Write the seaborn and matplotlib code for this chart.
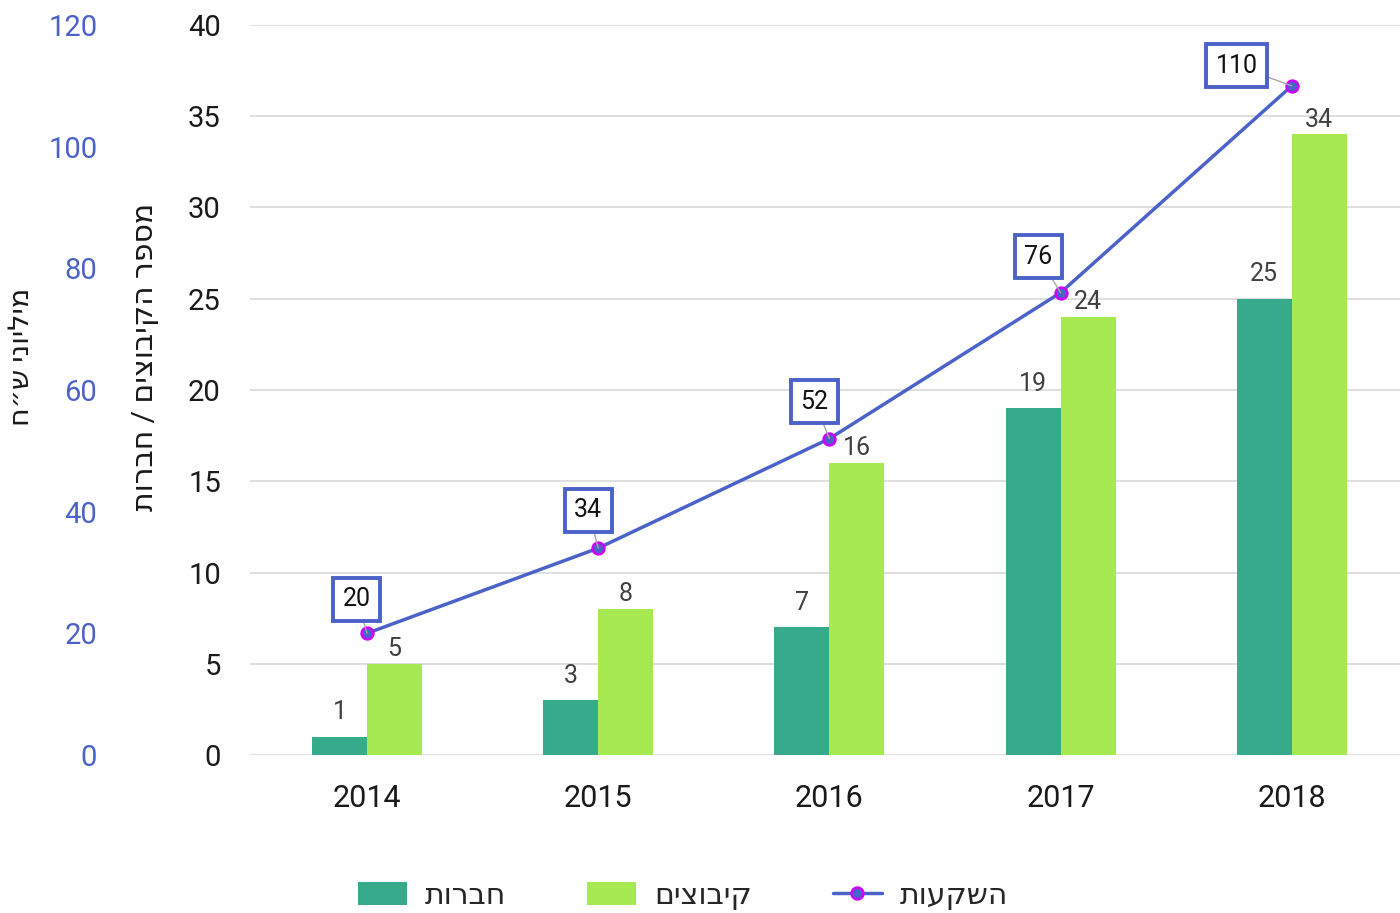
import numpy as np
import pandas as pd
import matplotlib
matplotlib.use("Agg")
import matplotlib.pyplot as plt
from matplotlib.patches import Patch
from matplotlib.lines import Line2D
import seaborn as sns

sns.set_style("white")
plt.rcParams['font.family'] = ['Roboto', 'DejaVu Sans']

# ---- data ----
years = ["2014", "2015", "2016", "2017", "2018"]
companies = [1, 3, 7, 19, 25]          # חברות
kibbutzim = [5, 8, 16, 24, 34]         # קיבוצים
investments = [20, 34, 52, 76, 110]    # השקעות (מיליוני ש"ח)

label_companies = "חברות"
label_kibbutzim = "קיבוצים"
label_invest = "השקעות"
ylabel_left = "מיליוני ש״ח"
ylabel_right = "מספר הקיבוצים / חברות"

# ---- style ----
c_dark = "#36ab8b"
c_light = "#a7e950"
c_line = "#4b62c8"
c_edge = "#d000ff"
c_tick2 = "#4b62c8"
c_text = "#1a1a1a"
c_lbl = "#404040"


def rtl(s):
    return s[::-1]


fig = plt.figure(figsize=(14, 9.13), dpi=100)
ax = fig.add_axes([250 / 1400, 158 / 913, 1150 / 1400, 730 / 913])

df = pd.DataFrame({
    "year": years * 2,
    "value": companies + kibbutzim,
    "series": [label_companies] * len(years) + [label_kibbutzim] * len(years),
})
sns.barplot(data=df, x="year", y="value", hue="series",
            palette=[c_dark, c_light], width=0.476, saturation=1,
            linewidth=0, edgecolor="none", ax=ax, legend=False)

ax.set_ylim(0, 40)
ax.set_yticks(np.arange(0, 41, 5))
ax.grid(axis="y", color="#d9d9d9", lw=1.2)
ax.grid(axis="x", visible=False)
ax.set_axisbelow(True)
for s in ax.spines.values():
    s.set_visible(False)
ax.set_xlabel("")
ax.set_ylabel("")
ax.tick_params(axis="y", length=0, pad=21, labelsize=21, labelcolor=c_text)
ax.tick_params(axis="x", length=0, pad=21, labelsize=22, labelcolor=c_text)

# bar labels
pads = [9, 2]
for cont, p in zip(ax.containers, pads):
    ax.bar_label(cont, padding=p, fontsize=18, color=c_lbl)

# secondary axis (line)
ax2 = ax.twinx()
xpos = np.arange(len(years))
sns.lineplot(x=xpos, y=investments, ax=ax2, color=c_line, lw=2.5,
             marker="o", markersize=8.5, markerfacecolor=c_line,
             markeredgecolor=c_edge, markeredgewidth=1.8)
ax2.set_ylim(0, 120)
ax2.set_yticks(np.arange(0, 121, 20))
ax2.yaxis.tick_left()
ax2.tick_params(axis="y", length=0, pad=110, labelsize=21, labelcolor=c_tick2)
for s in ax2.spines.values():
    s.set_visible(False)
ax2.grid(False)
ax2.set_ylabel("")

ax.set_xlim(-0.506, 4.468)

offsets = [(-10, 34), (-10, 38), (-15, 37), (-22, 36), (-55, 20)]
for i, v in enumerate(investments):
    ax2.annotate(str(v), xy=(xpos[i], v), xytext=offsets[i],
                 textcoords="offset pixels", ha="center", va="center",
                 fontsize=18, color="#111111", zorder=5,
                 bbox=dict(boxstyle="square,pad=0.38", fc="white",
                           ec=c_line, lw=2.8),
                 arrowprops=dict(arrowstyle="-", color="#a6a6a6", lw=1,
                                 shrinkA=0, shrinkB=0))

# axis titles
fig.text(22 / 1400, 1 - 357 / 913, rtl(ylabel_left), rotation=90,
         ha="center", va="center", fontsize=20.5, color=c_text)
fig.text(145 / 1400, 1 - 357 / 913, rtl(ylabel_right), rotation=90,
         ha="center", va="center", fontsize=21.5, color=c_text)

# legend
handles = [
    Patch(facecolor=c_dark, edgecolor="none"),
    Patch(facecolor=c_light, edgecolor="none"),
    Line2D([0], [0], color=c_line, lw=2.5, marker="o", markersize=8.5,
           markerfacecolor=c_line, markeredgecolor=c_edge, markeredgewidth=1.8),
]
labels = [rtl(label_companies), rtl(label_kibbutzim), rtl(label_invest)]
fig.legend(handles, labels, loc="center", bbox_to_anchor=(683 / 1400, 17 / 913),
           ncol=3, frameon=False, fontsize=21.5, handlelength=1.65,
           handleheight=0.8, handletextpad=0.6, columnspacing=2.7)

fig.savefig("out.png", dpi=100)
